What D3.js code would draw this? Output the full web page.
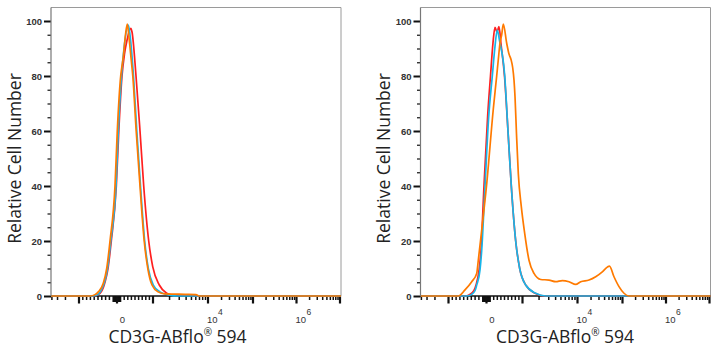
<!DOCTYPE html>
<html><head><meta charset="utf-8">
<script src="https://cdn.jsdelivr.net/npm/d3@7"></script>
<style>body{margin:0;background:#fff}svg{display:block}</style>
</head><body>
<svg id="c" width="719" height="350"></svg>
<script>
// ---- data (fluorescence value, relative cell number %) ----
const xTickLabels = ["0", "10|4", "10|6"];
const xTickLabelValues = [0, 1e4, 1e6];
const xMajorTicks = [-1000, 0, 1000, 1e4, 1e5, 1e6, 1e7];
const yMajorTicks = [0, 20, 40, 60, 80, 100];
const xTitle = ["CD3G-ABflo", "®", " 594"];
const yTitle = "Relative Cell Number";

const leftRed = [[-4188,0],[-605,0],[-447,1],[-316,5],[-237,10],[-150,20],[-18,40],[50,60],[139,80],[208,88],[278,93],[381,97.3],[417,96],[528,80],[639,60],[742,40],[881,20],[992,10.7],[1302,4],[1774,1],[2188,0.4],[4705,0.3],[6310,0],[1.05e7,0]];
const leftCyan = [[-4188,0],[-632,0],[-500,0.5],[-421,2],[-329,5],[-250,10],[-163,20],[-26,40],[36,60],[125,80],[194,90],[314,98.5],[361,95],[458,80],[550,60],[653,40],[769,20],[869,10],[1013,4],[1340,1.5],[2036,0.3],[2697,0],[1.05e7,0]];
const leftOrange = [[-4188,0],[-711,0],[-579,0.5],[-492,1.5],[-361,4.6],[-271,10],[-184,20],[-53,40],[8,60],[103,80],[131,83],[175,87],[236,95],[286,98.9],[333,94],[394,86],[439,80],[533,60],[639,40],[756,20],[856,10],[972,4],[1233,1.5],[1653,0.8],[3820,0.6],[6050,0.5],[6860,0],[1.05e7,0]];

const rightRed = [[-4188,0],[-560,0],[-450,0.5],[-330,2],[-275,4],[-195,9.5],[-145,16.7],[-66,40],[30,65],[111,80],[180,92],[236,97.7],[292,96],[347,98],[400,92],[500,80],[597,60],[689,40],[811,20],[922,10],[1143,4],[1700,1],[2470,0],[1.05e7,0]];
const rightCyan = [[-4188,0],[-520,0],[-400,0.5],[-300,2],[-258,4],[-171,9.5],[-126,16.7],[-39,40],[60,65],[161,80],[230,90],[300,96.7],[360,93],[506,80],[597,60],[689,40],[811,20],[922,10],[1143,4],[1738,1],[2641,0],[1.05e7,0]];
const rightOrange = [[-4188,0],[-742,0],[-566,2.2],[-389,5.2],[-258,8.2],[-216,13],[-126,24],[0,40],[189,68],[283,80],[328,86],[375,92],[422,95],[467,98.9],[561,91.9],[625,88],[681,86],[728,83],[764,78.5],[792,72.5],[833,59],[883,44.6],[967,32.5],[1096,22.8],[1313,13],[1618,8.2],[2142,6],[3034,5.8],[4016,5.2],[5296,5.6],[7003,5.2],[9273,4.2],[11780,5.2],[18020,5.8],[25370,7],[35560,8.8],[45900,10.5],[51400,10.9],[64700,7],[83600,3.4],[108300,1],[141000,0],[1.05e7,0]];

const colors = {red:"#ff1f1f", cyan:"#17b6ea", orange:"#ff7a00"};

// ---- scales ----
// logicle-like transform: linear within ±1000, log decades beyond
const tf = v => Math.abs(v) <= 1000 ? v / 1000 : Math.sign(v) * (1 + Math.log10(Math.abs(v) / 1000));
const xs = d3.scaleLinear().domain([-2,-1,0,1,2,3,4,5]).range([34,79,117,153,208,253,296.5,340]);
const X = v => xs(tf(v));
const y = d3.scaleLinear().domain([0, 100]).range([296, 21]);
const plotLeft = 51, plotRight = 341, plotTop = 7.5, plotBottom = 296;

const xMinor = [];
for (let k = 1; k <= 9; k++) { xMinor.push(k*10, -k*10); }
xMinor.push(100, -100);
for (let k = 2; k <= 9; k++) { xMinor.push(k*100, -k*100); }
[-2000,-3000,-4000].forEach(v => xMinor.push(v));
for (let e = 3; e <= 6; e++) for (let k = 2; k <= 9; k++) xMinor.push(k * Math.pow(10, e));
const nearZero = xMinor.filter(v => Math.abs(v) <= 100);
const otherMinor = xMinor.filter(v => Math.abs(v) > 100);
const yMinor = d3.range(5, 100, 5).filter(v => v % 20 !== 0);

const svg = d3.select("#c");
const lineGen = d3.line().x(d => X(d[0])).y(d => y(d[1])).curve(d3.curveMonotoneX);

function panel(offset, series, titleCenter) {
  const g = svg.append("g").attr("transform", `translate(${offset},0)`);
  // frame top/right
  g.append("path").attr("d", `M${plotLeft},${plotTop}H${plotRight}V${plotBottom}`)
    .attr("fill","none").attr("stroke","#9a9a9a").attr("stroke-width",1);

  // x axis line and ticks
  g.append("line").attr("x1",plotLeft).attr("x2",plotRight).attr("y1",plotBottom).attr("y2",plotBottom)
    .attr("stroke","#111").attr("stroke-width",1.6);
  const tickSets = [[otherMinor, 4, 1.5], [nearZero, 6, 1.4], [xMajorTicks, 7.5, 2.2]];
  tickSets.forEach(([vals, len, w]) => {
    g.append("g").selectAll("line").data(vals).join("line")
      .attr("x1", d => X(d)).attr("x2", d => X(d))
      .attr("y1", plotBottom).attr("y2", plotBottom + len)
      .attr("stroke", "#111").attr("stroke-width", w);
  });

  // curves: red, cyan, orange (orange on top)
  ["red","cyan","orange"].forEach(k => {
    g.append("path").datum(series[k]).attr("d", lineGen)
      .attr("fill","none").attr("stroke",colors[k]).attr("stroke-width",1.7).attr("stroke-linejoin","round");
  });

  // y axis
  const ya = g.append("g").attr("transform", `translate(${plotLeft},0)`);
  ya.append("g").call(d3.axisLeft(y).tickValues(yMinor).tickSize(3.5).tickFormat(""))
    .call(s => s.select(".domain").remove())
    .call(s => s.selectAll("line").attr("stroke","#222").attr("stroke-width",1.3));
  ya.append("g").call(d3.axisLeft(y).tickValues(yMajorTicks).tickSize(7).tickPadding(2).tickFormat(d3.format("d")))
    .call(s => s.select(".domain").remove())
    .call(s => s.selectAll("line").attr("stroke","#111").attr("stroke-width",2))
    .call(s => s.selectAll("text").attr("font-family","Liberation Sans, Arial, sans-serif").attr("font-size",9.5).attr("font-weight","bold").attr("fill","#333").attr("dy","0.35em"));
  ya.append("line").attr("x1",0).attr("x2",0).attr("y1",plotTop).attr("y2",plotBottom).attr("stroke","#777").attr("stroke-width",1.2);

  // x tick labels
  xTickLabels.forEach((lab, i) => {
    const px = X(xTickLabelValues[i]);
    const parts = lab.split("|");
    const t = g.append("text").attr("font-family","Liberation Sans, Arial, sans-serif").attr("font-size",9.5).attr("fill","#333");
    if (parts.length === 1) {
      t.attr("x", px + 5.5).attr("y", 322.5).attr("text-anchor","middle").text(parts[0]);
    } else {
      t.attr("x", px - 1).attr("y", 322.5).attr("text-anchor","start");
      t.append("tspan").text(parts[0]);
      t.append("tspan").attr("font-size",8.5).attr("dy",-8).attr("dx",0.5).text(parts[1]);
    }
  });

  // axis titles
  g.append("text").attr("transform","translate(20.5,158.5) rotate(-90)")
    .attr("text-anchor","middle").attr("font-family","Open Sans, Noto Sans, sans-serif")
    .attr("font-size",17.5).attr("fill","#222").text(yTitle);
  const xt = g.append("text").attr("x", titleCenter).attr("y", 342.5).attr("text-anchor","middle")
    .attr("font-family","Open Sans, Noto Sans, sans-serif").attr("font-size",17.5).attr("fill","#222");
  xt.append("tspan").text(xTitle[0]);
  xt.append("tspan").attr("font-size",10).attr("dy",-7).text(xTitle[1]);
  xt.append("tspan").attr("dy",7).text(xTitle[2]);
}

panel(0, {red:leftRed, cyan:leftCyan, orange:leftOrange}, 177.5);
panel(369.5, {red:rightRed, cyan:rightCyan, orange:rightOrange}, 565 - 369.5);
</script>
</body></html>
